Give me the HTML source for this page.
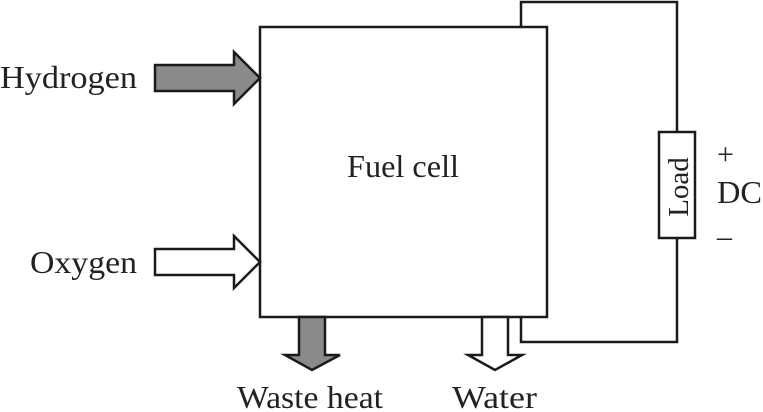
<!DOCTYPE html>
<html><head><style>body{margin:0;background:#fff}svg{display:block}text{font-family:"Liberation Serif",serif;fill:#222}</style></head>
<body>
<svg width="763" height="412" viewBox="0 0 763 412">
<g fill="none" stroke="#1a1a1a" stroke-width="2.5">
<rect x="260" y="27" width="287" height="290" fill="#fff"/>
<polyline points="521,27 521,2 677,2 677,132"/>
<polyline points="521,317 521,342 677,342 677,238"/>
<rect x="659" y="132" width="36" height="106" fill="#fff"/>
</g>
<g stroke="#1a1a1a" stroke-width="2.5" stroke-linejoin="miter">
<polygon points="155,65 234,65 234,52 260,78 234,104 234,91 155,91" fill="#8a8a8a"/>
<polygon points="155,249 234,249 234,236 260,262 234,288 234,275 155,275" fill="#fff"/>
<polygon points="299,317 325,317 325,355 340,355 312,370 285,355 299,355" fill="#8a8a8a"/>
<polygon points="482,317 508,317 508,355 522,355 495,370 468,355 482,355" fill="#fff"/>
</g>
<g font-size="32">
<text x="0" y="88" textLength="137" lengthAdjust="spacingAndGlyphs">Hydrogen</text>
<text x="30" y="273" textLength="107" lengthAdjust="spacingAndGlyphs">Oxygen</text>
<text x="347" y="177" textLength="112" lengthAdjust="spacingAndGlyphs">Fuel cell</text>
<text x="237" y="408" textLength="146" lengthAdjust="spacingAndGlyphs">Waste heat</text>
<text x="452" y="408" textLength="85" lengthAdjust="spacingAndGlyphs">Water</text>
<text x="717" y="203" textLength="45" lengthAdjust="spacingAndGlyphs">DC</text>
<text x="717" y="164" font-size="30">+</text>
<text x="717" y="246" font-size="30">–</text>
<text transform="translate(688,187) rotate(-90)" text-anchor="middle" font-size="29">Load</text>
</g>
</svg>
</body></html>
